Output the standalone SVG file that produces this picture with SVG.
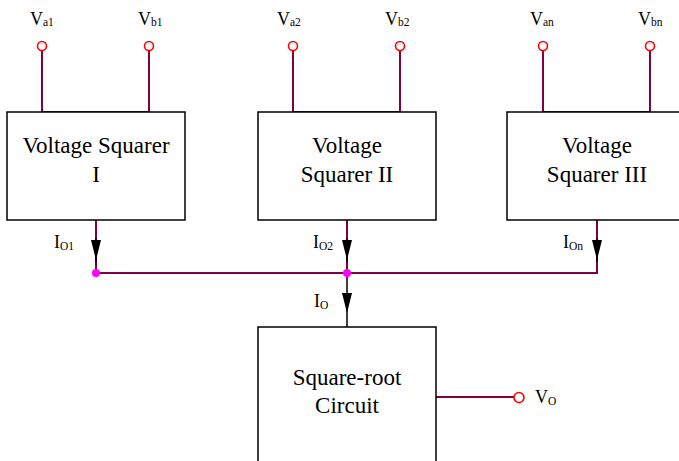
<svg xmlns="http://www.w3.org/2000/svg" width="679" height="461" viewBox="0 0 679 461" font-family="'Liberation Serif', 'Times New Roman', Times, 'DejaVu Serif', serif">
<defs>
<style>
.box{fill:#fff;stroke:#000;stroke-width:1.5}
.w{fill:none;stroke:#800040;stroke-width:2}
.k{fill:none;stroke:#000;stroke-width:1.5}
.term{fill:#fff;stroke:#f00;stroke-width:1.6}
.dot{fill:#f0f;stroke:none}
.t{font-size:23px;fill:#000;text-anchor:middle}
.l{font-size:18px;fill:#000}
.s{font-size:11.5px}
</style>
</defs>
<g id="connectors">
<path class="w" d="M42,50 V112 H149 V50"/>
<path class="w" d="M293,50 V112 H400 V50"/>
<path class="w" d="M543,50 V112 H650 V50"/>
<path class="w" d="M96,220 V273 H597 V220"/>
<path class="w" d="M347,220 V273"/>
<path class="k" d="M96,238 V262"/>
<path class="k" d="M347,238 V262"/>
<path class="k" d="M597,238 V262"/>
<path class="k" d="M347,273 V327"/>
<path d="M91,240 L101,240 L96,260 Z" fill="#000"/>
<path d="M342,240 L352,240 L347,260 Z" fill="#000"/>
<path d="M592,240 L602,240 L597,260 Z" fill="#000"/>
<path d="M342,293 L352,293 L347,313 Z" fill="#000"/>
<path class="w" d="M436,397 H514"/>
<circle class="dot" cx="96" cy="273" r="4"/>
<circle class="dot" cx="347" cy="273" r="4"/>
</g>
<g id="node-sq1">
<rect class="box" x="7" y="112" width="178" height="108"/>
<text class="t" x="96" y="153" font-family="Liberation Serif, serif">Voltage Squarer</text>
<text class="t" x="96" y="182" font-family="Liberation Serif, serif">I</text>
</g>
<g id="node-sq2">
<rect class="box" x="258" y="112" width="178" height="108"/>
<text class="t" x="347" y="153" font-family="Liberation Serif, serif">Voltage</text>
<text class="t" x="347" y="182" font-family="Liberation Serif, serif">Squarer II</text>
</g>
<g id="node-sq3">
<rect class="box" x="507" y="112" width="180" height="108"/>
<text class="t" x="597" y="153" font-family="Liberation Serif, serif">Voltage</text>
<text class="t" x="597" y="182" font-family="Liberation Serif, serif">Squarer III</text>
</g>
<g id="node-sqrt">
<rect class="box" x="258" y="327" width="178" height="140"/>
<text class="t" x="347" y="385" font-family="Liberation Serif, serif">Square-root</text>
<text class="t" x="347" y="413" font-family="Liberation Serif, serif">Circuit</text>
</g>
<g id="terminals">
<circle class="term" cx="42" cy="46" r="4.5"/>
<circle class="term" cx="149" cy="46" r="4.5"/>
<circle class="term" cx="293" cy="46" r="4.5"/>
<circle class="term" cx="400" cy="46" r="4.5"/>
<circle class="term" cx="543" cy="46" r="4.5"/>
<circle class="term" cx="650" cy="46" r="4.5"/>
<circle class="term" cx="519" cy="397.5" r="5"/>
</g>
<g id="labels" font-family="Liberation Serif, serif">
<text class="l" x="30" y="25">V<tspan class="s" dy="1">a1</tspan></text>
<text class="l" x="138" y="25">V<tspan class="s" dy="1">b1</tspan></text>
<text class="l" x="277" y="25">V<tspan class="s" dy="1">a2</tspan></text>
<text class="l" x="385" y="25">V<tspan class="s" dy="1">b2</tspan></text>
<text class="l" x="530" y="25">V<tspan class="s" dy="1">an</tspan></text>
<text class="l" x="638" y="25">V<tspan class="s" dy="1">bn</tspan></text>
<text class="l" x="54" y="248">I<tspan class="s" dy="2">O1</tspan></text>
<text class="l" x="313" y="248">I<tspan class="s" dy="2">O2</tspan></text>
<text class="l" x="563" y="248">I<tspan class="s" dy="2">On</tspan></text>
<text class="l" x="314" y="307">I<tspan class="s" dy="2">O</tspan></text>
<text class="l" x="535" y="403">V<tspan class="s" dy="2">O</tspan></text>
</g>
</svg>
